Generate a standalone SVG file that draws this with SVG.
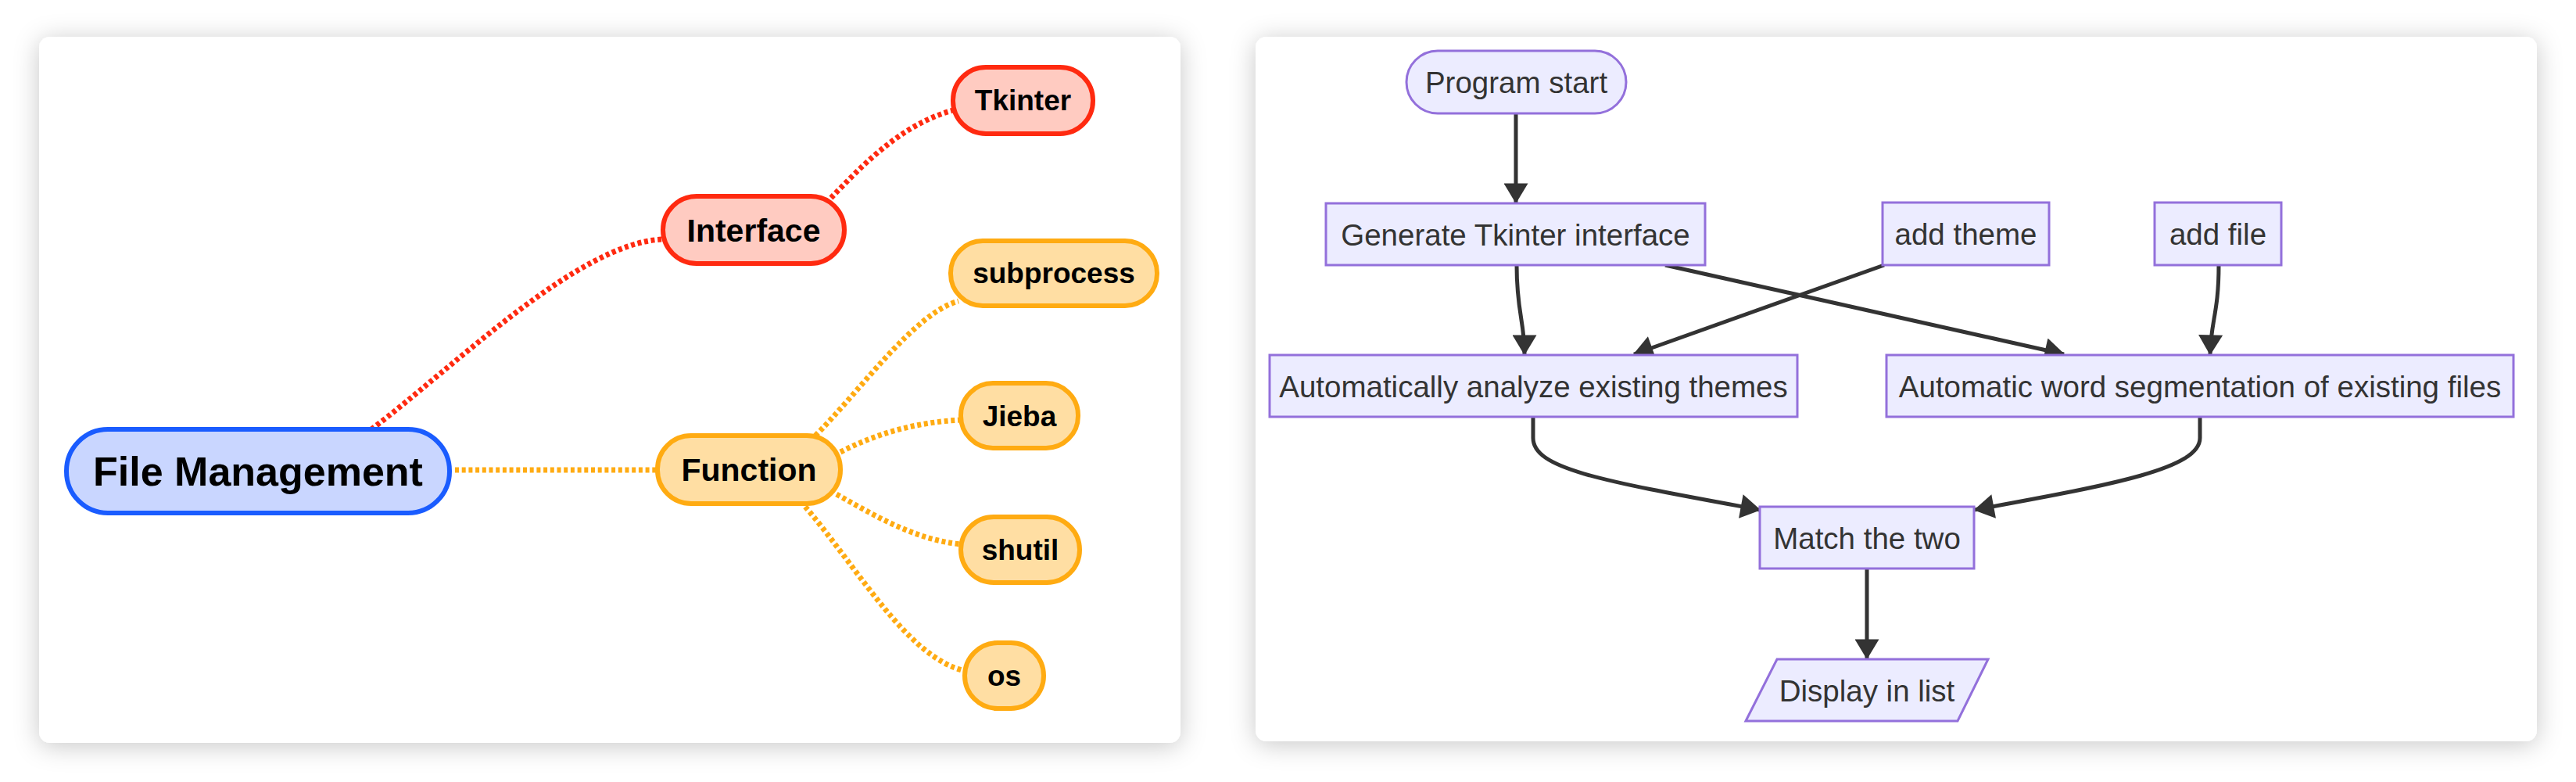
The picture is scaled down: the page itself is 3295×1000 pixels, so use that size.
<svg xmlns="http://www.w3.org/2000/svg" width="3295" height="1000" viewBox="0 0 3295 1000">
<defs>
<filter id="shadow" x="-10%" y="-10%" width="120%" height="120%">
<feDropShadow dx="0" dy="4" stdDeviation="16" flood-color="#000" flood-opacity="0.22"/>
</filter>
<marker id="arrow" viewBox="0 0 10 12" refX="9.5" refY="6" markerUnits="userSpaceOnUse" markerWidth="27" markerHeight="31" orient="auto">
<path d="M0,0 L10,6 L0,12 z" fill="#333333"/>
</marker>
<style>
.card{fill:#ffffff;filter:url(#shadow);}
.mm text{font-family:"Liberation Sans",Arial,sans-serif;font-weight:bold;fill:#000;text-anchor:middle;}
.root rect{fill:#c9d6ff;stroke:#1a5cff;stroke-width:6;}
.red rect{fill:#ffcbc1;stroke:#ff2a10;stroke-width:6;}
.org rect{fill:#ffdea3;stroke:#ffab12;stroke-width:6;}
.mmedge path{fill:none;stroke-width:7;stroke-dasharray:5 3.7;}
.mmedge .r{stroke:#ff2a10;}
.mmedge .o{stroke:#ffab12;}
.fc rect,.fc polygon{fill:#ECECFF;stroke:#9370DB;stroke-width:3;}
.fc text{font-family:"Liberation Sans",Arial,sans-serif;font-size:38.5px;fill:#333;text-anchor:middle;}
.fcedge path{fill:none;stroke:#333333;stroke-width:5;marker-end:url(#arrow);}
</style>
</defs>
<rect width="3295" height="1000" fill="#ffffff"/>
<rect class="card" x="50" y="47" width="1460" height="903" rx="14"/>
<rect class="card" x="1606" y="47" width="1639" height="901" rx="14"/>

<g class="mmedge" id="mm-connectors">
<path class="r" d="M 475 549 C 580 470, 740 310, 848 306"/>
<path class="r" d="M 1063 253 C 1100 215, 1150 160, 1219 141"/>
<path class="o" d="M 582 601 L 841 601"/>
<path class="o" d="M 1043 557 C 1100 500, 1170 400, 1226 385"/>
<path class="o" d="M 1075 578 C 1120 555, 1170 540, 1229 537"/>
<path class="o" d="M 1070 632 C 1120 660, 1170 690, 1229 696"/>
<path class="o" d="M 1030 648 C 1100 730, 1160 840, 1234 858"/>
</g>

<g class="mm">
<g id="file-management" class="root"><rect x="85" y="549" width="490" height="107" rx="53"/><text x="330" y="621" font-size="52">File Management</text></g>
<g id="interface" class="red"><rect x="848" y="251" width="232" height="86" rx="43"/><text x="964" y="309" font-size="41">Interface</text></g>
<g id="tkinter" class="red"><rect x="1219" y="86" width="179" height="85" rx="42"/><text x="1308.5" y="141" font-size="37">Tkinter</text></g>
<g id="function" class="org"><rect x="841" y="557" width="234" height="87" rx="43"/><text x="958" y="615" font-size="41">Function</text></g>
<g id="subprocess" class="org"><rect x="1216" y="308" width="264" height="83" rx="41"/><text x="1348" y="362" font-size="37">subprocess</text></g>
<g id="jieba" class="org"><rect x="1229" y="490" width="150" height="83" rx="41"/><text x="1304" y="545" font-size="37">Jieba</text></g>
<g id="shutil" class="org"><rect x="1229" y="661" width="152" height="84" rx="42"/><text x="1305" y="716" font-size="37">shutil</text></g>
<g id="os" class="org"><rect x="1234" y="822" width="101" height="84" rx="42"/><text x="1284.5" y="877" font-size="37">os</text></g>
</g>

<g class="fcedge" id="fc-connectors">
<path d="M 1939 145 L 1939 259"/>
<path d="M 1940 339 C 1940 400, 1950 410, 1950 453"/>
<path d="M 2130 339 L 2640 453"/>
<path d="M 2410 339 L 2090 453"/>
<path d="M 2838 339 C 2838 400, 2828 410, 2827 453"/>
<path d="M 1961 533 L 1961 560 C 1961 600, 2050 615, 2251 652"/>
<path d="M 2814 533 L 2814 560 C 2814 600, 2700 620, 2526 652"/>
<path d="M 2388 727 L 2388 842"/>
</g>

<g class="fc">
<g id="program-start"><rect x="1799" y="65" width="281" height="80" rx="40"/><text x="1939.5" y="119">Program start</text></g>
<g id="generate"><rect x="1696" y="260" width="485" height="79"/><text x="1938.5" y="314">Generate Tkinter interface</text></g>
<g id="add-theme"><rect x="2408" y="259" width="213" height="80"/><text x="2514.5" y="313">add theme</text></g>
<g id="add-file"><rect x="2756" y="259" width="162" height="80"/><text x="2837" y="313">add file</text></g>
<g id="analyze"><rect x="1624" y="454" width="675" height="79"/><text x="1961.5" y="508">Automatically analyze existing themes</text></g>
<g id="segmentation"><rect x="2413" y="454" width="802" height="79"/><text x="2814" y="508">Automatic word segmentation of existing files</text></g>
<g id="match"><rect x="2251" y="648" width="274" height="79"/><text x="2388" y="702">Match the two</text></g>
<g id="display"><polygon points="2273,843 2543,843 2504,922 2233,922"/><text x="2388" y="897">Display in list</text></g>
</g>
</svg>
